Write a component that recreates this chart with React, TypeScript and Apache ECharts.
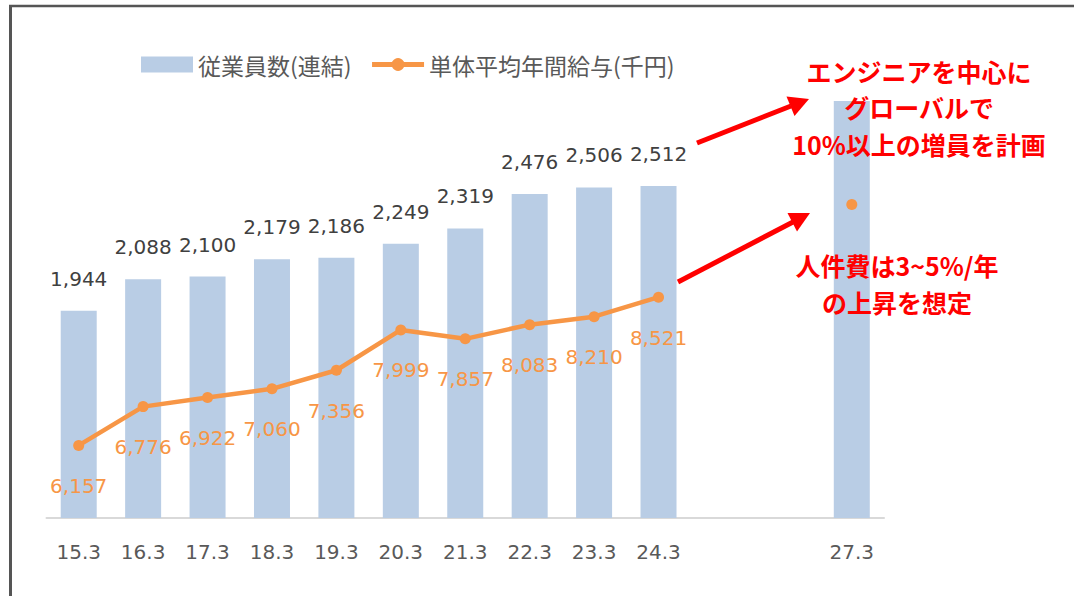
import React, { useEffect, useRef } from "react";
import * as echarts from "echarts";

const categories = ["15.3", "16.3", "17.3", "18.3", "19.3", "20.3", "21.3", "22.3", "23.3", "24.3", "25.3", "26.3", "27.3"];
const axisLabelsShown = ["15.3", "16.3", "17.3", "18.3", "19.3", "20.3", "21.3", "22.3", "23.3", "24.3", "", "", "27.3"];
const employees: (number | null)[] = [1944, 2088, 2100, 2179, 2186, 2249, 2319, 2476, 2506, 2512, null, null, 2900];
const salary: (number | null)[] = [6157, 6776, 6922, 7060, 7356, 7999, 7857, 8083, 8210, 8521, null, null, 10000];
const planIndex = 12;

const barName = "従業員数(連結)";
const lineName = "単体平均年間給与(千円)";
const note1Lines = ["エンジニアを中心に", "グローバルで", "10%以上の増員を計画"];
const note2Lines = ["人件費は3~5%/年", "の上昇を想定"];

const BLUE = "#B9CDE5";
const ORANGE = "#F79646";
const RED = "#FF0000";
const NUM_FONT = "'DejaVu Sans', Verdana, sans-serif";
const JP_FONT = "'Noto Sans CJK JP', sans-serif";

function fmt(v: number) {
  return v.toLocaleString("en-US");
}

export default function App() {
  const ref = useRef<HTMLDivElement>(null);
  useEffect(() => {
    if (!ref.current) return;
    const chart = echarts.init(ref.current, null, { renderer: "svg" });
    const barData = employees.map((v, i) => ({
      value: v,
      label: { show: v !== null && i !== planIndex },
    }));
    const lineData = salary.map((v, i) => ({
      value: v,
      label: { show: v !== null && i !== planIndex },
    }));
    const noteText = (text: string, x: number, y: number) => ({
      type: "text",
      z: 100,
      x,
      y,
      style: {
        text,
        fill: RED,
        font: `bold 25px ${JP_FONT}`,
        align: "center",
        verticalAlign: "middle",
      },
    });
    const n1y = [70.5, 107, 143.5];
    const n2y = [265, 301.5];
    chart.setOption({
      animation: false,
      backgroundColor: "#ffffff",
      legend: {
        left: 141,
        top: 53,
        padding: 0,
        itemGap: 18,
        itemWidth: 52,
        itemHeight: 16,
        textStyle: { fontFamily: JP_FONT, fontSize: 23, color: "#595959" },
        lineStyle: { width: 5 },
        data: [
          { name: barName, icon: "rect" },
          { name: lineName },
        ],
      },
      grid: { left: 46.5, right: 190, top: 79, bottom: 78, containLabel: false },
      xAxis: {
        type: "category",
        data: categories,
        axisLine: { show: true, lineStyle: { color: "#D9D9D9", width: 2 } },
        axisTick: { show: false },
        axisLabel: {
          margin: 24,
          color: "#595959",
          fontFamily: NUM_FONT,
          fontSize: 20,
          interval: 0,
          formatter: (_v: string, i: number) => axisLabelsShown[i],
        },
      },
      yAxis: [
        { type: "value", min: 1000, max: 3000, show: false, splitLine: { show: false } },
        { type: "value", min: 5000, max: 12000, show: false, splitLine: { show: false } },
      ],
      series: [
        {
          name: barName,
          type: "bar",
          yAxisIndex: 0,
          barWidth: 36,
          itemStyle: { color: BLUE },
          label: {
            position: "top",
            distance: 22,
            color: "#404040",
            fontFamily: NUM_FONT,
            fontSize: 20,
            formatter: (p: any) => fmt(p.value),
          },
          data: barData,
        },
        {
          name: lineName,
          type: "line",
          yAxisIndex: 1,
          connectNulls: false,
          symbol: "circle",
          symbolSize: 11,
          lineStyle: { color: ORANGE, width: 4.5 },
          itemStyle: { color: ORANGE },
          label: {
            position: "bottom",
            distance: 25,
            color: ORANGE,
            fontFamily: NUM_FONT,
            fontSize: 20,
            formatter: (p: any) => fmt(p.value),
          },
          data: lineData,
        },
      ],
      graphic: [
        { type: "line", z: 100, shape: { x1: 9, y1: 6, x2: 1074, y2: 6 }, style: { stroke: "#555555", lineWidth: 2.5 } },
        { type: "line", z: 100, shape: { x1: 10.5, y1: 5, x2: 10.5, y2: 596 }, style: { stroke: "#555555", lineWidth: 3 } },
        ...note1Lines.map((t, i) => noteText(t, 919, n1y[i])),
        ...note2Lines.map((t, i) => noteText(t, 897, n2y[i])),
        { type: "line", z: 100, shape: { x1: 697, y1: 143, x2: 791, y2: 106 }, style: { stroke: RED, lineWidth: 5 } },
        { type: "polygon", z: 100, shape: { points: [[809, 99], [794.5, 116], [786.5, 96.5]] }, style: { fill: RED } },
        { type: "line", z: 100, shape: { x1: 678, y1: 282, x2: 793, y2: 222 }, style: { stroke: RED, lineWidth: 5 } },
        { type: "polygon", z: 100, shape: { points: [[810, 213], [797, 231.5], [787.5, 213]] }, style: { fill: RED } },
      ],
    });
    return () => chart.dispose();
  }, []);
  return (
    <div
      ref={ref}
      style={{ position: "fixed", left: 0, top: 0, width: 1074, height: 596 }}
    />
  );
}
